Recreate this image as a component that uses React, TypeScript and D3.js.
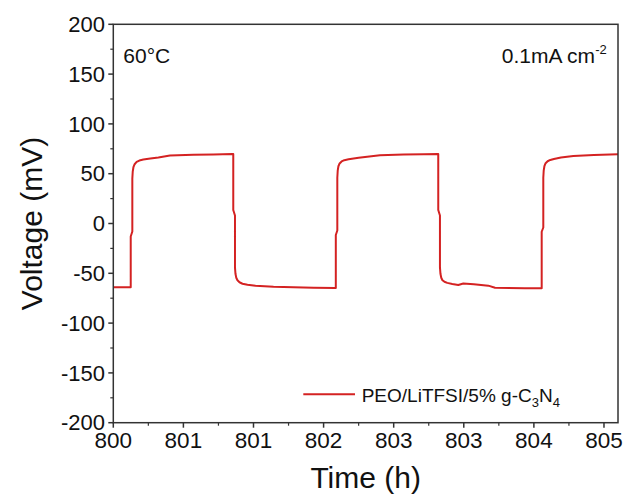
import React from "react";
import * as d3 from "d3";

// ---- data ----
const timeH: number[] = [
  800.0, 800.174, 800.174, 800.19, 800.19, 800.194, 800.201, 800.213, 800.233, 800.26, 800.3, 800.37, 800.45, 800.566, 800.8, 801.0, 801.19,
  801.198, 801.198, 801.215, 801.215, 801.22, 801.228, 801.24, 801.26, 801.29, 801.34, 801.42, 801.6, 801.8, 802.0, 802.22,
  802.222, 802.222, 802.237, 802.237, 802.241, 802.248, 802.26, 802.28, 802.307, 802.35, 802.45, 802.663, 802.9, 803.1, 803.244,
  803.245, 803.245, 803.262, 803.262, 803.267, 803.275, 803.287, 803.307, 803.335, 803.385, 803.445, 803.47, 803.495, 803.6, 803.745, 803.812, 804.111, 804.276,
  804.278, 804.278, 804.294, 804.294, 804.298, 804.305, 804.317, 804.337, 804.364, 804.4, 804.47, 804.594, 804.8, 805.04,
];
const voltageMV: number[] = [
  -64, -64, -13, -8, 45, 52, 56.5, 59.5, 61.8, 63.2, 64.2, 65.2, 66.3, 68.2, 69, 69.4, 69.8,
  69.8, 13.6, 8, -44, -50.5, -54.5, -57, -59, -60.5, -61.5, -62.4, -63.4, -64, -64.5, -64.8,
  -64.8, -11.5, -7, 46, 53, 57.5, 60.3, 62.3, 63.6, 64.6, 66, 68.5, 69.2, 69.5, 69.8,
  69.8, 13.6, 8, -44, -50.5, -54.5, -57, -58.5, -59.6, -60.8, -61.7, -61, -60.3, -61, -62.4, -64.5, -65, -65,
  -65, -8.3, -4, 46, 53, 57.5, 60.5, 62.5, 63.8, 64.8, 66.3, 67.8, 68.8, 69.5,
];
const xTickValues: number[] = [800, 800.7, 801.4, 802.1, 802.8, 803.5, 804.2, 804.9];
const xTickLabels: string[] = ["800", "801", "801", "802", "803", "803", "804", "805"];
const yTickValues: number[] = [-200, -150, -100, -50, 0, 50, 100, 150, 200];
const seriesName = "PEO/LiTFSI/5% g-C";

const W = 625;
const H = 495;
const L = 113.3, R = 618, T = 24.3, B = 422.7;
const FONT = "'Liberation Sans', Arial, Helvetica, sans-serif";
const RED = "#d42222";
const AX = "#333";

export default function App() {
  const x = d3.scaleLinear().domain([800, 805.04]).range([L, R]);
  const y = d3.scaleLinear().domain([-200, 200]).range([B, T]);
  const pts: [number, number][] = timeH.map((t, i) => [t, voltageMV[i]]);
  const line = d3.line<[number, number]>().x((d) => x(d[0])).y((d) => y(d[1]));

  const xMinor: number[] = [];
  for (let i = 0; i < xTickValues.length; i++) {
    const m = xTickValues[i] + 0.35;
    if (m <= 805.04) xMinor.push(m);
  }
  const yMinor: number[] = [];
  for (let v = -175; v < 200; v += 50) yMinor.push(v);

  return (
    <svg width={W} height={H} style={{ position: "absolute", left: 0, top: 0, background: "#fff" }} fontFamily={FONT}>
      <rect x={0} y={0} width={W} height={H} fill="#fff" />
      <defs>
        <clipPath id="plotclip">
          <rect x={L} y={T} width={R - L} height={B - T} />
        </clipPath>
      </defs>
      {/* data line */}
      <path d={line(pts) || ""} fill="none" stroke={RED} strokeWidth={2} strokeLinejoin="round" clipPath="url(#plotclip)" />
      {/* frame */}
      <rect x={L} y={T} width={R - L} height={B - T} fill="none" stroke={AX} strokeWidth={1.5} />
      {/* x ticks */}
      {xTickValues.map((v, i) => (
        <g key={"xt" + i}>
          <line x1={x(v)} x2={x(v)} y1={B} y2={B + 5} stroke={AX} strokeWidth={1.5} />
          <text x={x(v)} y={447.5} textAnchor="middle" fontSize={22.5} fill="#111">{xTickLabels[i]}</text>
        </g>
      ))}
      {xMinor.map((v, i) => (
        <line key={"xm" + i} x1={x(v)} x2={x(v)} y1={B} y2={B + 3} stroke={AX} strokeWidth={1.2} />
      ))}
      {/* y ticks */}
      {yTickValues.map((v, i) => (
        <g key={"yt" + i}>
          <line x1={L - 5} x2={L} y1={y(v)} y2={y(v)} stroke={AX} strokeWidth={1.5} />
          <text x={105} y={y(v)} dy="0.35em" textAnchor="end" fontSize={22} fill="#111">{v}</text>
        </g>
      ))}
      {yMinor.map((v, i) => (
        <line key={"ym" + i} x1={L - 3} x2={L} y1={y(v)} y2={y(v)} stroke={AX} strokeWidth={1.2} />
      ))}
      {/* axis titles */}
      <text x={365.7} y={488} textAnchor="middle" fontSize={30} fill="#111">Time (h)</text>
      <text transform={`translate(42,${(T + B) / 2}) rotate(-90)`} textAnchor="middle" fontSize={30} fill="#111">Voltage (mV)</text>
      {/* annotations */}
      <text x={123.3} y={63.3} fontSize={21} fill="#111">60°C</text>
      <text x={606.7} y={62.7} textAnchor="end" fontSize={21} fill="#111">
        0.1mA cm<tspan dy={-9} fontSize={13}>-2</tspan>
      </text>
      {/* legend */}
      <line x1={303.3} x2={355} y1={394.3} y2={394.3} stroke={RED} strokeWidth={2} />
      <text x={361.7} y={402} fontSize={19} fill="#111">
        {seriesName}
        <tspan dy={5} fontSize={13}>3</tspan>
        <tspan dy={-5} fontSize={19}>N</tspan>
        <tspan dy={5} fontSize={13}>4</tspan>
      </text>
    </svg>
  );
}
